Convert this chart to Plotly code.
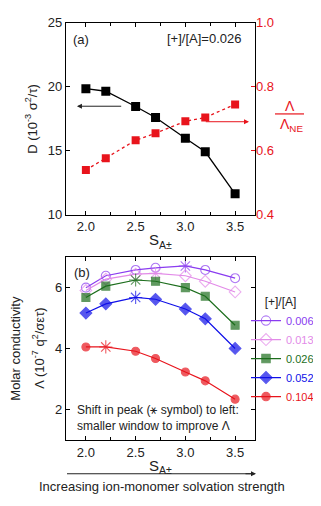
import plotly.graph_objects as go

# shared x values (solvation strength)
s_vals = [2.0, 2.2, 2.5, 2.7, 3.0, 3.2, 3.5]

# panel (a)
d_vals = [19.85, 19.65, 18.46, 17.6, 15.98, 14.92, 11.64]
ratio_vals = [0.540, 0.577, 0.633, 0.655, 0.692, 0.704, 0.745]

# panel (b) molar conductivity by [+]/[A]
conc_labels = ["0.006", "0.013", "0.026", "0.052", "0.104"]
lam_006 = [5.98, 6.37, 6.56, 6.63, 6.69, 6.56, 6.29]
lam_013 = [5.89, 6.26, 6.42, 6.45, 6.37, 6.19, 5.84]
lam_026 = [5.66, 6.03, 6.23, 6.19, 5.98, 5.70, 4.75]
lam_052 = [5.15, 5.45, 5.66, 5.60, 5.28, 4.96, 3.99]
lam_104 = [4.04, 4.04, 3.90, 3.66, 3.22, 2.93, 2.33]
peak_idx = [4, 3, 2, 2, 1]

FONT = "Arial"
# page has an 8px body margin, so the figure is drawn 8px smaller and offset
OFF = 8
W, H = 321 - OFF, 506 - OFF
RED = "#e8141c"
INK = "#222"


def px_x(p):
    return (p - OFF) / W


def px_y(p):
    return 1 - (p - OFF) / H


def note(x, y, text, size=13, color=INK, xanchor="center", **kw):
    fig.add_annotation(x=px_x(x), y=px_y(y), xref="paper", yref="paper", text=text,
                       showarrow=False, xanchor=xanchor, yanchor="middle",
                       font=dict(size=size, color=color), **kw)


series = [
    (lam_006, "#8a3cf0", "circle-open", 9),
    (lam_013, "#e28ae8", "diamond-open", 9),
    (lam_026, "#1d6e1d", "square", 8),
    (lam_052, "#1010e8", "diamond", 9),
    (lam_104, RED, "circle", 8),
]

fig = go.Figure()

fig.add_trace(go.Scatter(
    x=s_vals, y=d_vals, mode="lines+markers", showlegend=False,
    line=dict(color="black", width=1.3),
    marker=dict(symbol="square", size=9, color="black"),
    xaxis="x", yaxis="y",
))
fig.add_trace(go.Scatter(
    x=s_vals, y=ratio_vals, mode="lines+markers", showlegend=False,
    line=dict(color=RED, width=1.3, dash="dot"),
    marker=dict(symbol="square", size=8, color=RED),
    xaxis="x", yaxis="y2",
))

for (vals, col, sym, sz), lab, pk in zip(series, conc_labels, peak_idx):
    syms = [("asterisk-open" if i == pk else sym) for i in range(len(vals))]
    sizes = [11 if i == pk else sz for i in range(len(vals))]
    fig.add_trace(go.Scatter(
        x=s_vals, y=vals, mode="lines+markers",
        name=f"<span style='color:{col}'>{lab}</span>",
        line=dict(color=col, width=1.2),
        marker=dict(symbol=syms, size=sizes, color=col, line=dict(color=col, width=1.1)),
        xaxis="x2", yaxis="y3",
    ))

ax_common = dict(
    showline=True, linecolor="black", linewidth=1.2, mirror="ticks",
    ticks="inside", ticklen=4, tickcolor="black", showgrid=False, zeroline=False,
    tickfont=dict(size=13, color=INK), automargin=False,
)

xa = dict(ax_common, range=[1.8, 3.7], tickvals=[2.0, 2.5, 3.0, 3.5], tickformat=".1f",
          minor=dict(ticks="inside", tickvals=[2.25, 2.75, 3.25], ticklen=3, tickcolor="black"),
          title=dict(text="S<sub>A±</sub>", font=dict(size=15, color=INK), standoff=1))

fig.update_layout(
    width=W, height=H,
    margin=dict(l=0, r=0, t=0, b=0),
    paper_bgcolor="white", plot_bgcolor="white",
    font=dict(family=FONT, color=INK),
    xaxis=dict(xa, domain=[px_x(66), px_x(255)], anchor="y"),
    yaxis=dict(ax_common, domain=[px_y(214), px_y(16)], range=[10, 25], dtick=5, anchor="x"),
    yaxis2=dict(overlaying="y", side="right", range=[0.4, 1.0], tickvals=[0.4, 0.6, 0.8, 1.0],
                tickformat=".1f", showline=False, showgrid=False, zeroline=False,
                ticks="inside", ticklen=4, tickcolor=RED,
                tickfont=dict(size=13, color=RED), anchor="x"),
    xaxis2=dict(xa, domain=[px_x(66), px_x(255)], anchor="y3"),
    yaxis3=dict(ax_common, domain=[px_y(446), px_y(257)], range=[1, 7], dtick=2, anchor="x2"),
    legend=dict(
        x=px_x(246), y=px_y(292), xanchor="left", yanchor="top",
        bgcolor="rgba(0,0,0,0)", font=dict(size=11),
        title=dict(text="     [+]/[A]", font=dict(size=12, color=INK)),
        itemwidth=30, tracegroupgap=0,
    ),
)

# y-axis titles
note(31, 115, "D (10<sup>-3</sup> σ<sup>2</sup>/τ)", textangle=-90)
note(16, 352, "Molar conductivity", textangle=-90)
note(38, 352, "Λ (10<sup>-7</sup> q<sup>2</sup>/σετ)", textangle=-90)

# panel labels and notes
note(71, 33, "(a)", xanchor="left")
note(243, 32, "[+]/[A]=0.026", xanchor="right")
note(72, 273, "(b)", xanchor="left")
note(75, 423, "Shift in peak (⚹ symbol) to left:<br>smaller window to improve Λ",
     size=12, xanchor="left", align="left")

# axis arrows in (a)
fig.add_annotation(x=1.91, y=18.48, ax=2.37, ay=18.48, xref="x", yref="y", axref="x", ayref="y",
                   text="", showarrow=True, arrowhead=2, arrowsize=1, arrowwidth=1, arrowcolor=INK)
fig.add_annotation(x=3.64, y=17.27, ax=3.19, ay=17.27, xref="x", yref="y", axref="x", ayref="y",
                   text="", showarrow=True, arrowhead=2, arrowsize=1, arrowwidth=1, arrowcolor=RED)

# Λ / Λ_NE label
note(290, 102, "Λ", size=14, color=RED)
note(291, 121, "Λ<sub>NE</sub>", size=14, color=RED)
fig.add_shape(type="line", xref="paper", yref="paper", x0=px_x(275), x1=px_x(304),
              y0=px_y(110), y1=px_y(110), line=dict(color=RED, width=1.2))

# bottom arrow (spans the x axis of panel b) and caption
fig.add_shape(type="line", xref="paper", yref="paper", x0=px_x(67), x1=px_x(252),
              y0=px_y(481), y1=px_y(481), line=dict(color=INK, width=1))
fig.add_annotation(x=px_x(256), y=px_y(481), xref="paper", yref="paper", ax=-12, ay=0,
                   text="", showarrow=True, arrowhead=2, arrowsize=1, arrowwidth=1, arrowcolor=INK)
note(162, 494, "Increasing ion-monomer solvation strength")

fig.write_html("out.html")
